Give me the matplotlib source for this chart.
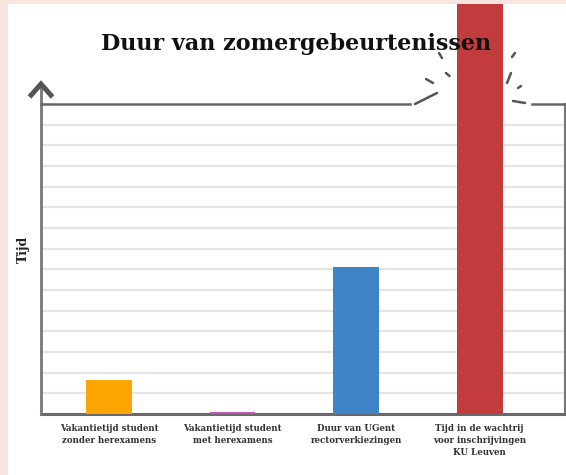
#%%
import matplotlib
matplotlib.use('Agg')
import matplotlib.pyplot as plt
from matplotlib.lines import Line2D
from matplotlib.patches import Rectangle

#%% Data (tijd in rastereenheden, afgelezen)

categorieen = ['Vakantietijd student\nzonder herexamens',
               'Vakantietijd student\nmet herexamens',
               'Duur van UGent\nrectorverkiezingen',
               'Tijd in de wachtrij\nvoor inschrijvingen\nKU Leuven']
waarden = [1.65, 0.12, 7.1, 20.0]
kleuren = ['#fda602', '#c455b4', '#3e84c6', '#c33c3d']

W, H = 566, 475

def px(x, y):
    # pixel (top-left origin) -> figure fraction
    return x / W, 1 - y / H

#%% Figure

fig = plt.figure(figsize=(W/100, H/100), dpi=100)
fig.patch.set_facecolor('white')

ax = fig.add_axes([41/W, 1-414/H, (565-41)/W, (414-104)/H])
ax.set_facecolor('white')

x = range(len(categorieen))
bars = ax.bar(x, waarden, width=0.37, color=kleuren, zorder=3)
for b in bars:
    b.set_clip_on(False)

ax.set_xlim(-0.55, 3.69)
ax.set_ylim(0, 15)
ax.set_yticks(range(1, 15))
ax.yaxis.grid(True, color='#e4e4e4', lw=1.6, zorder=0)
ax.tick_params(axis='y', length=0, labelleft=False)
ax.set_xticks(list(x))
ax.set_xticklabels(categorieen, fontsize=6.2, family='DejaVu Serif', weight='bold',
                   color='#333333', linespacing=1.45)
ax.tick_params(axis='x', length=0, pad=7)

for s in ['top', 'left']:
    ax.spines[s].set_visible(False)
ax.spines['bottom'].set_color('#6a6a6a')
ax.spines['bottom'].set_linewidth(2.2)
ax.spines['right'].set_color('#777777')
ax.spines['right'].set_linewidth(1.5)

ax.set_ylabel('Tijd', fontsize=9, family='DejaVu Serif', weight='bold', color='#222222')
ax.yaxis.set_label_coords(-0.022, 0.53)

# y-as met pijl
def lijn(pts, lw, color='#666666', **kw):
    xs, ys = zip(*[px(a, b) for a, b in pts])
    fig.add_artist(Line2D(xs, ys, lw=lw, color=color, transform=fig.transFigure, **kw))

lijn([(41, 414), (41, 86)], 2.0, '#777777')
lijn([(29.5, 97), (41, 84), (52.5, 97)], 3.6, '#555555', solid_joinstyle='miter', solid_capstyle='butt')

# bovenlijn met onderbreking
lijn([(41, 104), (410, 104)], 1.8, '#666666')
lijn([(532, 104), (565, 104)], 1.8, '#666666')

# "knal" streepjes rond de rode balk
streepjes = [[(415, 104), (437, 93)], [(426, 79), (433, 83)], [(446, 73), (449.5, 76)],
             [(439, 53), (442, 58)], [(512, 57), (515, 53)], [(507, 83), (511, 73)],
             [(518, 88), (521, 86)], [(513, 101), (525, 103)]]
for s in streepjes:
    lijn(s, 1.8, '#555555', solid_capstyle='round')

# titel
fig.text(*px(296, 44), 'Duur van zomergebeurtenissen', ha='center', va='center',
         fontsize=16, family='DejaVu Serif', weight='bold', color='#111111')

# roze rand
fig.add_artist(Rectangle((0, 0), 8/W, 1, transform=fig.transFigure,
                         facecolor='#f9e5df', edgecolor='none', zorder=10))
fig.add_artist(Rectangle((0, 1-4/H), 1, 4/H, transform=fig.transFigure,
                         facecolor='#f9e5df', edgecolor='none', zorder=10))

fig.savefig('out.png', dpi=100, facecolor='white')
